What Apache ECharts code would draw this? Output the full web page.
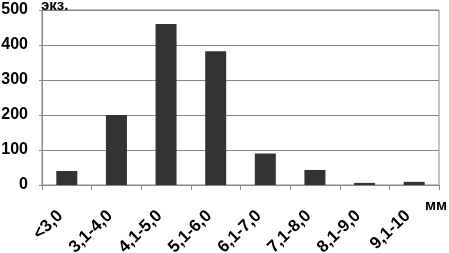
<!DOCTYPE html>
<html><head><meta charset="utf-8">
<script src="https://cdn.jsdelivr.net/npm/echarts@6/dist/echarts.min.js"></script>
<style>html,body{margin:0;padding:0;background:#fff}#c{width:449px;height:253px}</style>
</head><body><div id="c"></div>
<script>
const categories = ['<3,0','3,1-4,0','4,1-5,0','5,1-6,0','6,1-7,0','7,1-8,0','8,1-9,0','9,1-10'];
const counts = [40, 200, 460, 382, 90, 43, 6, 9];
const yTicks = [0, 100, 200, 300, 400, 500];
const yName = 'экз.';
const xName = 'мм';
const F = '"Liberation Sans", Arial, sans-serif';
const chart = echarts.init(document.getElementById('c'), null, {renderer:'canvas'});
chart.setOption({
  animation:false,
  backgroundColor:'#fff',
  grid:{left:42,right:10,top:10,height:175,outerBoundsMode:'none',containLabel:false,show:true,borderColor:'#888',borderWidth:1},
  xAxis:{type:'category',data:categories,
    axisLine:{lineStyle:{color:'#888',width:1}},
    axisTick:{show:true,alignWithLabel:false,length:5,lineStyle:{color:'#888'}},
    axisLabel:{rotate:44,margin:22,padding:[0,9,0,0],color:'#000',fontFamily:F,fontWeight:'bold',fontSize:17,interval:0}},
  yAxis:{type:'value',min:yTicks[0],max:yTicks[yTicks.length-1],interval:100,
    axisLine:{show:true,lineStyle:{color:'#888'}},
    axisTick:{show:true,length:3,lineStyle:{color:'#888'}},
    splitLine:{lineStyle:{color:'#888',width:1}},
    axisLabel:{margin:14,color:'#000',fontFamily:F,fontWeight:'bold',fontSize:16}},
  series:[{type:'bar',data:counts,barWidth:21,itemStyle:{color:'#333333'}}],
  graphic:[
    {type:'text',left:41,top:-2,style:{text:yName,fill:'#000',font:'bold 15px '+F}},
    {type:'text',left:425,top:198,style:{text:xName,fill:'#000',font:'bold 15px '+F}}
  ]
});
</script></body></html>
